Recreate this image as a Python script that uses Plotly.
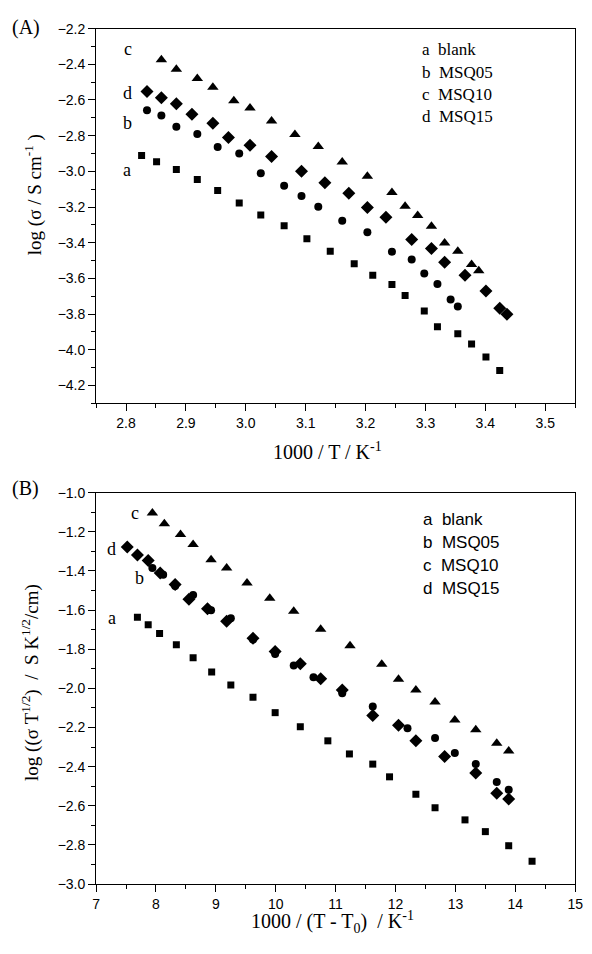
import plotly.graph_objects as go

# (A) 1000/T vs log(sigma)
a1_x = [2.826, 2.851, 2.884, 2.919, 2.953, 2.989, 3.025, 3.064, 3.102, 3.141,
        3.181, 3.212, 3.244, 3.266, 3.298, 3.320, 3.354, 3.377, 3.401, 3.424]
a1_y = [-2.911, -2.946, -2.990, -3.046, -3.108, -3.178, -3.244, -3.305, -3.378, -3.448,
        -3.518, -3.582, -3.634, -3.696, -3.783, -3.871, -3.910, -3.968, -4.040, -4.117]
b1_x = [2.835, 2.859, 2.884, 2.919, 2.953, 2.989, 3.025, 3.064, 3.093, 3.121,
        3.161, 3.203, 3.244, 3.277, 3.298, 3.320, 3.342, 3.354]
b1_y = [-2.658, -2.687, -2.750, -2.790, -2.864, -2.900, -3.011, -3.081, -3.138, -3.198,
        -3.277, -3.342, -3.450, -3.494, -3.573, -3.631, -3.718, -3.757]
c1_x = [2.859, 2.884, 2.919, 2.945, 2.980, 3.007, 3.043, 3.082, 3.121, 3.161,
        3.203, 3.244, 3.266, 3.287, 3.310, 3.332, 3.354, 3.377, 3.389]
c1_y = [-2.375, -2.428, -2.479, -2.529, -2.604, -2.645, -2.718, -2.794, -2.860, -2.948,
        -3.027, -3.119, -3.196, -3.248, -3.308, -3.402, -3.448, -3.522, -3.557]
d1_x = [2.835, 2.859, 2.884, 2.910, 2.945, 2.971, 3.007, 3.043, 3.093, 3.132,
        3.172, 3.203, 3.234, 3.277, 3.310, 3.332, 3.366, 3.401, 3.424, 3.436]
d1_y = [-2.553, -2.588, -2.621, -2.680, -2.731, -2.810, -2.853, -2.917, -3.000, -3.064,
        -3.123, -3.202, -3.257, -3.382, -3.432, -3.509, -3.582, -3.671, -3.768, -3.801]

# (B) 1000/(T-T0) vs log(sigma T^1/2)
a2_x = [7.69, 7.87, 8.06, 8.34, 8.62, 8.93, 9.25, 9.62, 9.99, 10.41,
        10.87, 11.23, 11.62, 11.90, 12.34, 12.66, 13.16, 13.50, 13.89, 14.28]
a2_y = [-1.637, -1.675, -1.720, -1.777, -1.843, -1.916, -1.983, -2.045, -2.124, -2.196,
        -2.268, -2.335, -2.387, -2.452, -2.541, -2.610, -2.672, -2.732, -2.804, -2.883]
b2_x = [7.94, 8.12, 8.32, 8.62, 8.92, 9.25, 9.62, 9.99, 10.30, 10.63,
        11.11, 11.62, 12.20, 12.66, 12.99, 13.34, 13.69, 13.89]
b2_y = [-1.385, -1.419, -1.477, -1.523, -1.600, -1.642, -1.750, -1.824, -1.883, -1.943,
        -2.025, -2.092, -2.204, -2.253, -2.330, -2.387, -2.479, -2.518]
c2_x = [7.94, 8.14, 8.41, 8.62, 8.92, 9.18, 9.52, 9.90, 10.30, 10.75,
        11.24, 11.77, 12.05, 12.34, 12.66, 12.99, 13.34, 13.69, 13.89]
c2_y = [-1.104, -1.159, -1.214, -1.265, -1.343, -1.385, -1.461, -1.539, -1.606, -1.698,
        -1.782, -1.876, -1.953, -2.008, -2.070, -2.162, -2.211, -2.281, -2.320]
d2_x = [7.52, 7.69, 7.87, 8.07, 8.32, 8.55, 8.86, 9.18, 9.62, 9.99,
        10.41, 10.75, 11.11, 11.62, 12.05, 12.34, 12.82, 13.34, 13.69, 13.89]
d2_y = [-1.278, -1.318, -1.347, -1.410, -1.469, -1.544, -1.593, -1.657, -1.744, -1.811,
        -1.874, -1.951, -2.008, -2.139, -2.189, -2.268, -2.348, -2.432, -2.536, -2.565]

legend_keys = ['a', 'b', 'c', 'd']
legend_names = ['blank', 'MSQ05', 'MSQ10', 'MSQ15']

# curve tags next to first points
tags = ['c', 'd', 'b', 'a']
tags1_x = [2.803, 2.802, 2.802, 2.801]
tags1_y = [-2.314, -2.558, -2.728, -2.994]
tags2_x = [7.65, 7.26, 7.73, 7.26]
tags2_y = [-1.104, -1.288, -1.436, -1.640]

W, H = 592, 954
SERIF = 'Liberation Serif'
SANS = 'Liberation Sans'

fig = go.Figure()

sym = {'a': 'square', 'b': 'circle', 'c': 'triangle-up', 'd': 'diamond'}
msize = {'a': 7, 'b': 8, 'c': 10, 'd': 10}

top = {'a': (a1_x, a1_y), 'b': (b1_x, b1_y), 'c': (c1_x, c1_y), 'd': (d1_x, d1_y)}
bot = {'a': (a2_x, a2_y), 'b': (b2_x, b2_y), 'c': (c2_x, c2_y), 'd': (d2_x, d2_y)}

for k in legend_keys:
    fig.add_trace(go.Scatter(x=top[k][0], y=top[k][1], mode='markers',
                             marker=dict(symbol=sym[k], size=msize[k], color='black'),
                             xaxis='x', yaxis='y', showlegend=False))
    fig.add_trace(go.Scatter(x=bot[k][0], y=bot[k][1], mode='markers',
                             marker=dict(symbol=sym[k], size=msize[k], color='black'),
                             xaxis='x2', yaxis='y2', showlegend=False))

axis_common = dict(showline=True, linecolor='black', linewidth=1, mirror=True,
                   showgrid=False, zeroline=False, ticks='outside', ticklen=7,
                   tickcolor='black', tickwidth=1,
                   tickfont=dict(family=SANS, size=14, color='black'))

fig.update_layout(
    width=W, height=H,
    margin=dict(l=0, r=0, t=0, b=0),
    paper_bgcolor='white', plot_bgcolor='white',
    xaxis=dict(domain=[94 / W, 583 / W], range=[2.75, 3.55], anchor='y',
               tick0=2.8, dtick=0.1, tickformat='.1f',
               minor=dict(dtick=0.05, ticklen=4, ticks='outside', tickcolor='black'),
               **axis_common),
    yaxis=dict(domain=[1 - 402 / H, 1 - 21 / H], range=[-4.3, -2.2], anchor='x',
               tick0=-2.2, dtick=0.2, tickformat='.1f',
               minor=dict(dtick=0.1, ticklen=4, ticks='outside', tickcolor='black'),
               **axis_common),
    xaxis2=dict(domain=[94 / W, 583 / W], range=[7, 15], anchor='y2',
                tick0=7, dtick=1,
                minor=dict(dtick=0.5, ticklen=4, ticks='outside', tickcolor='black'),
                **axis_common),
    yaxis2=dict(domain=[1 - 891 / H, 1 - 493 / H], range=[-3.0, -1.0], anchor='x2',
                tick0=-3.0, dtick=0.2, tickformat='.1f',
                minor=dict(dtick=0.1, ticklen=4, ticks='outside', tickcolor='black'),
                **axis_common),
    showlegend=False,
)

ann = []
# curve tags
for t, x, y in zip(tags, tags1_x, tags1_y):
    ann.append(dict(text=t, x=x, y=y, xref='x', yref='y', showarrow=False,
                    xanchor='center', yanchor='middle',
                    font=dict(family=SERIF, size=18, color='black')))
for t, x, y in zip(tags, tags2_x, tags2_y):
    ann.append(dict(text=t, x=x, y=y, xref='x2', yref='y2', showarrow=False,
                    xanchor='center', yanchor='middle',
                    font=dict(family=SERIF, size=18, color='black')))

# legend text
for i, (k, n) in enumerate(zip(legend_keys, legend_names)):
    ann.append(dict(text=k + '\u00a0\u00a0' + n, x=425 / W, y=1 - (42.5 + 22.6 * i) / H,
                    xref='paper', yref='paper', showarrow=False,
                    xanchor='left', yanchor='middle',
                    font=dict(family=SERIF, size=17, color='black')))
    ann.append(dict(text=k + '\u00a0\u00a0' + n, x=426 / W, y=1 - (520 + 23.5 * i) / H,
                    xref='paper', yref='paper', showarrow=False,
                    xanchor='left', yanchor='middle',
                    font=dict(family=SANS, size=17, color='black')))

# panel labels
ann.append(dict(text='(A)', x=22 / W, y=1 - 20 / H, xref='paper', yref='paper',
                showarrow=False, xanchor='center', yanchor='middle',
                font=dict(family=SERIF, size=20, color='black')))
ann.append(dict(text='(B)', x=22 / W, y=1 - 489 / H, xref='paper', yref='paper',
                showarrow=False, xanchor='center', yanchor='middle',
                font=dict(family=SERIF, size=20, color='black')))

# axis titles
ann.append(dict(text='log (σ / S cm<sup>-1</sup> )', x=30 / W, y=1 - 190 / H,
                xref='paper', yref='paper', showarrow=False, textangle=-90,
                xanchor='center', yanchor='middle',
                font=dict(family=SERIF, size=19, color='black')))
ann.append(dict(text='1000 / T / K<sup>-1</sup>', x=330 / W, y=1 - 451 / H,
                xref='paper', yref='paper', showarrow=False,
                xanchor='center', yanchor='middle',
                font=dict(family=SERIF, size=20, color='black')))
ann.append(dict(text='log ((σ T<sup>1/2</sup>)\u00a0 / \u00a0S K<sup>1/2</sup>/cm)',
                x=27 / W, y=1 - 686 / H,
                xref='paper', yref='paper', showarrow=False, textangle=-90,
                xanchor='center', yanchor='middle',
                font=dict(family=SERIF, size=19, color='black')))
ann.append(dict(text='1000 / (T - T<sub>0</sub>)\u00a0 / K<sup>-1</sup>', x=335 / W, y=1 - 930 / H,
                xref='paper', yref='paper', showarrow=False,
                xanchor='center', yanchor='middle',
                font=dict(family=SERIF, size=20, color='black')))

fig.update_layout(annotations=ann)

# drop the default page margin so the 592x954 figure fills the window
fig.write_html("out.html", config={'displayModeBar': False},
               post_script="document.body.style.margin='0';")
